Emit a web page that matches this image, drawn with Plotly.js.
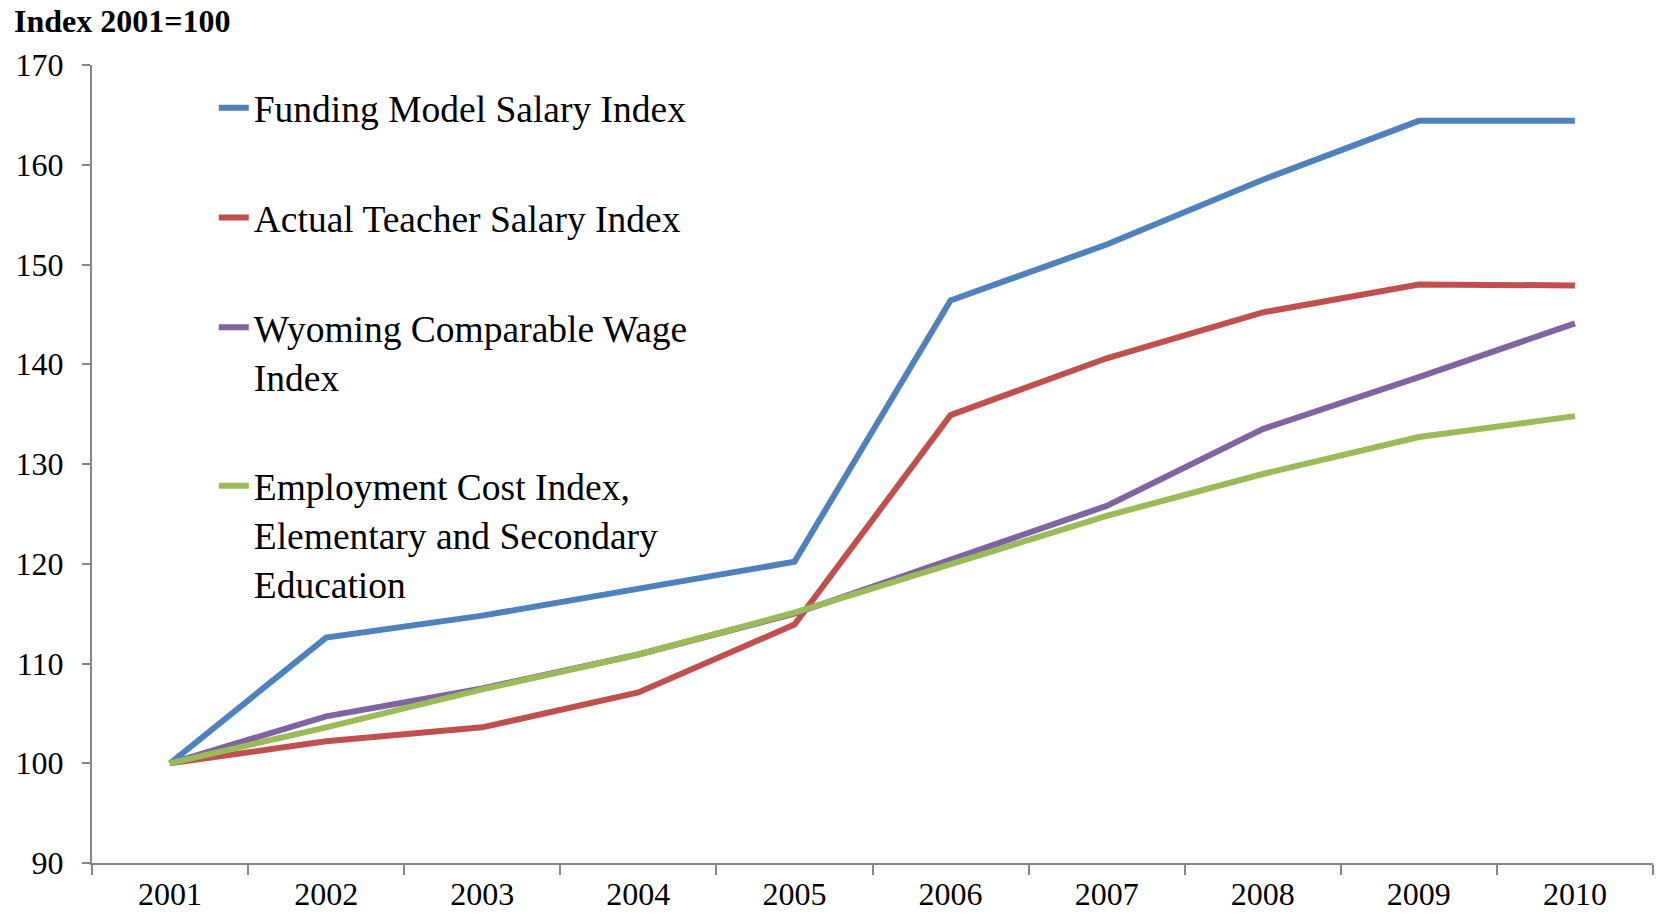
<!DOCTYPE html>
<html>
<head>
<meta charset="utf-8">
<script src="https://cdn.plot.ly/plotly-3.0.1.min.js"></script>
<style>html,body{margin:0;padding:0;background:#fff;}#chart{width:1659px;height:917px;}</style>
</head>
<body>
<div id="chart"></div>
<script>
const years = ["2001","2002","2003","2004","2005","2006","2007","2008","2009","2010"];
const fundingModel = [100, 112.6, 114.8, 117.5, 120.2, 146.4, 152.0, 158.5, 164.4, 164.4];
const actualTeacher = [100, 102.2, 103.6, 107.1, 113.9, 134.9, 140.6, 145.2, 148.0, 147.9];
const wyomingWage = [100, 104.7, 107.5, 110.9, 115.0, 120.4, 125.8, 133.5, 138.7, 144.1];
const employmentCost = [100, 103.6, 107.4, 110.9, 115.1, 119.9, 124.8, 129.0, 132.7, 134.8];
const seriesNames = [
  "Funding Model Salary Index",
  "Actual Teacher Salary Index",
  "Wyoming Comparable Wage<br>Index",
  "Employment Cost Index,<br>Elementary and Secondary<br>Education"
];
const colors = ["#4F81BD", "#C0504D", "#8064A2", "#9BBB59"];
const values = [fundingModel, actualTeacher, wyomingWage, employmentCost];

const traces = values.map((v, i) => ({
  type: "scatter",
  mode: "lines",
  x: years,
  y: v,
  name: seriesNames[i],
  legendgroup: "g" + i,
  line: {color: colors[i], width: 6},
  hoverinfo: "x+y+name"
}));

const font = "Liberation Serif, Times New Roman, serif";
const layout = {
  width: 1659,
  height: 917,
  margin: {l: 92, r: 6, t: 65, b: 54},
  paper_bgcolor: "#ffffff",
  plot_bgcolor: "#ffffff",
  font: {family: font, color: "#000000", size: 33},
  showlegend: true,
  legend: {
    x: 0.078, y: 0.985, xanchor: "left", yanchor: "top",
    bgcolor: "rgba(0,0,0,0)",
    font: {family: font, size: 37.5, color: "#000"},
    valign: "top",
    traceorder: "grouped",
    tracegroupgap: 58
  },
  xaxis: {
    type: "category",
    range: [-0.5, 9.5],
    showgrid: false,
    zeroline: false,
    showline: true,
    linecolor: "#868686",
    linewidth: 2,
    ticks: "outside",
    tickson: "boundaries",
    ticklen: 10,
    tickwidth: 2,
    tickcolor: "#868686",
    ticklabelstandoff: 2,
    tickfont: {family: font, size: 32, color: "#000"}
  },
  yaxis: {
    range: [90, 170],
    dtick: 10,
    tick0: 90,
    showgrid: false,
    zeroline: false,
    showline: true,
    linecolor: "#868686",
    linewidth: 2,
    ticks: "outside",
    ticklen: 8,
    tickwidth: 2,
    tickcolor: "#868686",
    ticklabelstandoff: 12,
    tickfont: {family: font, size: 32, color: "#000"}
  },
  annotations: [{
    text: "<b>Index 2001=100</b>",
    xref: "paper", yref: "paper",
    x: -0.051, y: 1.0,
    xanchor: "left", yanchor: "bottom",
    yshift: 24,
    showarrow: false,
    font: {family: font, size: 32, color: "#000"}
  }]
};

Plotly.newPlot("chart", traces, layout, {displayModeBar: false, responsive: false});
</script>
</body>
</html>
